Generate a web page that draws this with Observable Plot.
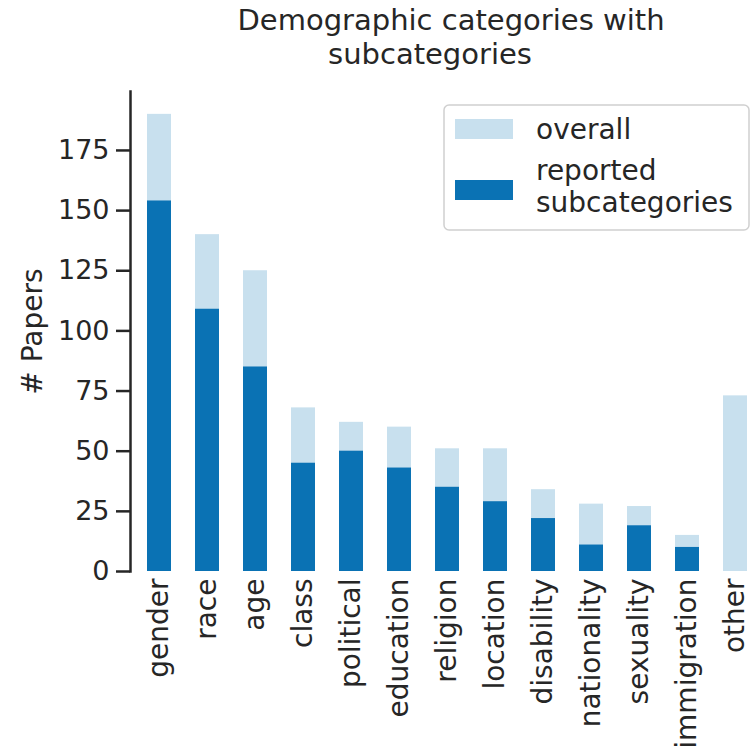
<!DOCTYPE html>
<html>
<head>
<meta charset="utf-8">
<script src="https://cdn.jsdelivr.net/npm/d3@7"></script>
<script src="https://cdn.jsdelivr.net/npm/@observablehq/plot@0.6"></script>
<style>
  html, body { margin: 0; padding: 0; background: #fff; overflow: hidden; }
  #chart { position: relative; width: 753px; height: 753px; }
</style>
</head>
<body>
<div id="chart"></div>
<script>
const categories = ["gender","race","age","class","political","education","religion","location","disability","nationality","sexuality","immigration","other"];
const overall   = [190, 140, 125, 68, 62, 60, 51, 51, 34, 28, 27, 15, 73];
const reported  = [154, 109, 85, 45, 50, 43, 35, 29, 22, 11, 19, 10, 0];
const yTicks = [0, 25, 50, 75, 100, 125, 150, 175];
const seriesNames = ["overall", "reported\nsubcategories"];
const titleLines = ["Demographic categories with", "subcategories"];
const yLabel = "# Papers";

const lightColor = "#c8e0ee";
const darkColor = "#0a72b4";
const textColor = "#262626";
const font = "DejaVu Sans, sans-serif";

const data = categories.map((c, i) => ({cat: c, overall: overall[i], reported: reported[i]}));

const plot = Plot.plot({
  width: 753,
  height: 753,
  marginTop: 91,
  marginBottom: 182,
  marginLeft: 130,
  marginRight: 0,
  style: {fontFamily: font, color: textColor, background: "#fff", overflow: "hidden"},
  x: {type: "band", domain: categories, range: [130, 763], paddingInner: 0.5, paddingOuter: 0.25, label: null},
  y: {domain: [0, 199.5], range: [571, 91], label: null},
  marks: [
    Plot.barY(data, {x: "cat", y1: 0, y2: "overall", fill: lightColor}),
    Plot.barY(data, {x: "cat", y1: 0, y2: "reported", fill: darkColor}),
    Plot.frame({anchor: "left", stroke: textColor, strokeWidth: 2.5}),
    Plot.axisY({ticks: yTicks, tickSize: 14, tickPadding: 7, fontSize: 27, strokeWidth: 2.5, stroke: textColor, fill: textColor, label: null, tickFormat: d => String(d)}),
    Plot.axisX({tickRotate: -90, tickSize: 0, tickPadding: 7, fontSize: 28, fill: textColor, label: null}),
    Plot.text([yLabel], {frameAnchor: "left", textAnchor: "middle", dx: -97, rotate: -90, fontSize: 28, fill: textColor, text: d => d})
  ]
});

document.getElementById("chart").appendChild(plot);

const svg = d3.select(plot);

// Title
const title = svg.append("g").attr("font-family", font).attr("font-size", 29).attr("fill", textColor).attr("text-anchor", "middle");
title.append("text").attr("x", 451).attr("y", 29.5).text(titleLines[0]);
title.append("text").attr("x", 430).attr("y", 64).text(titleLines[1]);

// Legend
const lg = svg.append("g").attr("font-family", font).attr("font-size", 28).attr("fill", textColor).attr("text-anchor", "start");
lg.append("rect").attr("x", 444).attr("y", 105).attr("width", 305).attr("height", 125)
  .attr("rx", 5).attr("fill", "#fff").attr("fill-opacity", 0.8).attr("stroke", "#d0d0d0").attr("stroke-width", 1.5);
lg.append("rect").attr("x", 455).attr("y", 119).attr("width", 58).attr("height", 20).attr("fill", lightColor);
lg.append("rect").attr("x", 455).attr("y", 180).attr("width", 58).attr("height", 20).attr("fill", darkColor);
lg.append("text").attr("x", 536).attr("y", 139).text(seriesNames[0]);
const t2 = lg.append("text").attr("x", 536).attr("y", 180);
const parts = seriesNames[1].split("\n");
t2.append("tspan").attr("x", 536).attr("y", 180).text(parts[0]);
t2.append("tspan").attr("x", 536).attr("y", 212).text(parts[1]);
</script>
</body>
</html>
